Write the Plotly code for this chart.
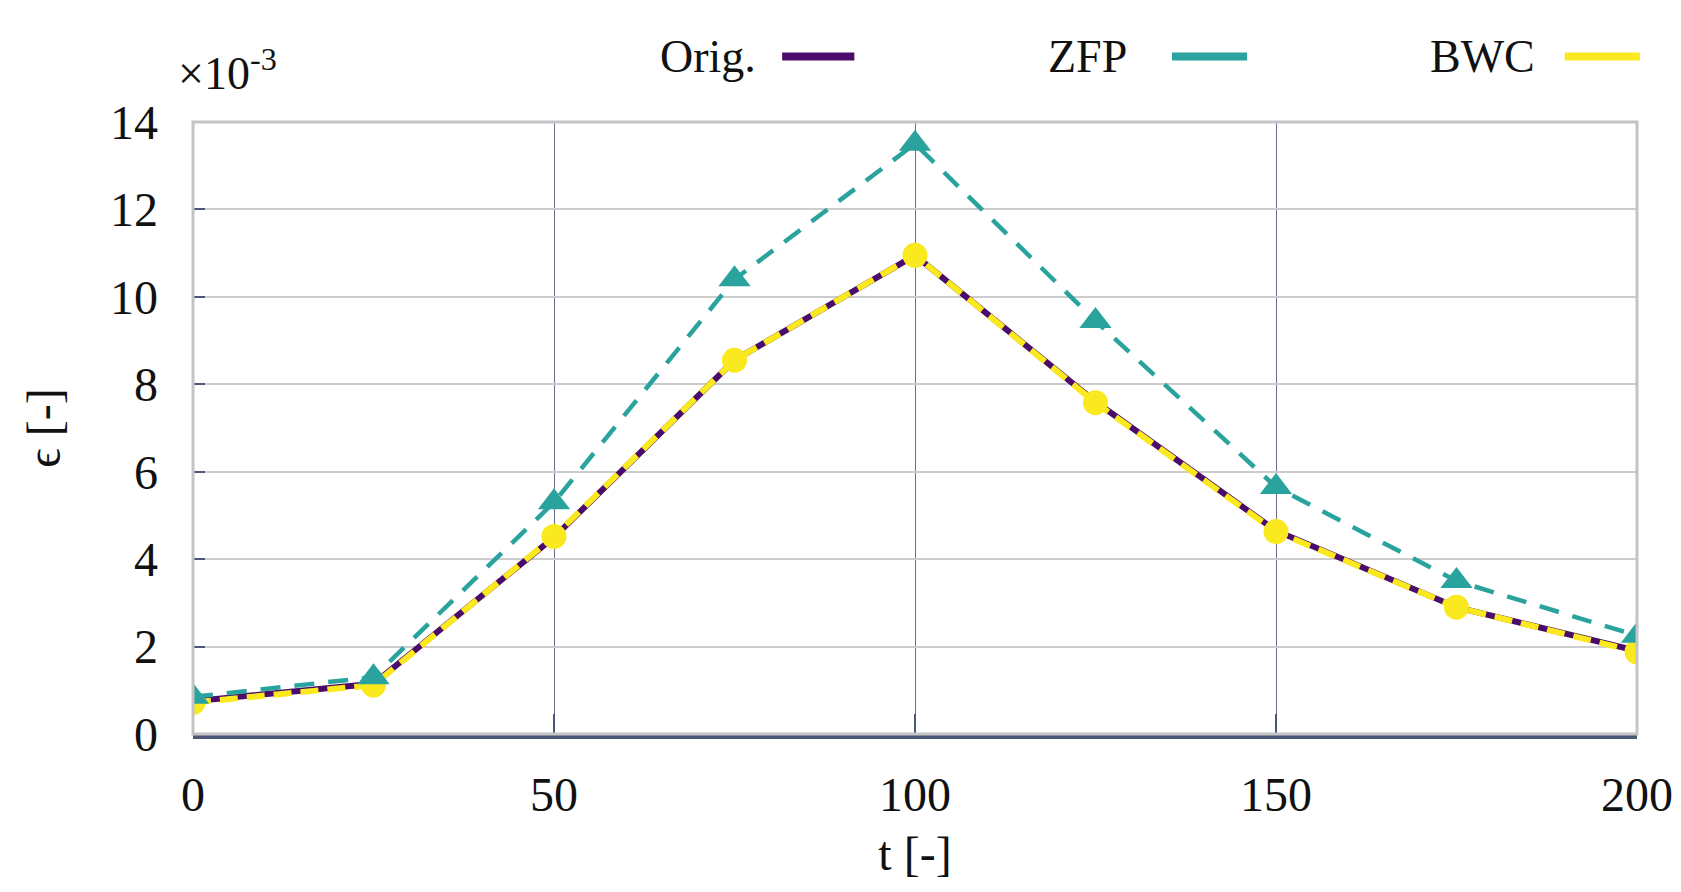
import plotly.graph_objects as go

t = [0, 25, 50, 75, 100, 125, 150, 175, 200]
orig = [0.75, 1.15, 4.5, 8.55, 10.95, 7.6, 4.65, 2.9, 1.9]
zfp = [0.85, 1.3, 5.3, 10.4, 13.5, 9.45, 5.65, 3.5, 2.25]
bwc = [0.72, 1.12, 4.52, 8.55, 10.95, 7.58, 4.63, 2.9, 1.88]

series_names = ["Orig.", "ZFP", "BWC"]
C_ORIG = "#4a0c6b"
C_ZFP = "#2aa39e"
C_BWC = "#fbe91f"
FONT = "Liberation Serif"

fig = go.Figure()
fig.add_trace(go.Scatter(x=t, y=orig, mode="lines", name="Orig.",
                         line=dict(color=C_ORIG, width=6), showlegend=False))
fig.add_trace(go.Scatter(x=t, y=bwc, mode="lines+markers", name="BWC",
                         line=dict(color=C_BWC, width=6, dash="18px,9px"),
                         marker=dict(symbol="circle", size=25, color=C_BWC),
                         showlegend=False))
fig.add_trace(go.Scatter(x=t, y=zfp, mode="lines+markers", name="ZFP",
                         line=dict(color=C_ZFP, width=4.5, dash="20px,14px"),
                         marker=dict(symbol="triangle-up", size=28, color=C_ZFP),
                         showlegend=False))

# custom legend: text followed by line sample
leg = [("Orig.", C_ORIG, 0.391, 0.408, 0.458),
       ("ZFP", C_ZFP, 0.648, 0.678, 0.730),
       ("BWC", C_BWC, 0.931, 0.950, 1.002)]
for name, col, xt, x0, x1 in leg:
    fig.add_annotation(xref="paper", yref="paper", x=xt, y=1.107, text=name,
                       showarrow=False, xanchor="right", yanchor="middle",
                       font=dict(family=FONT, size=46, color="#111"))
    fig.add_shape(type="line", xref="paper", yref="paper", x0=x0, x1=x1,
                  y0=1.107, y1=1.107, line=dict(color=col, width=8))

fig.add_annotation(xref="paper", yref="paper", x=-0.012, y=1.035, text="×10<sup>-3</sup>",
                   showarrow=False, xanchor="left", yanchor="bottom",
                   font=dict(family=FONT, size=46, color="#111"))

# light gray frame
fig.add_shape(type="rect", xref="paper", yref="paper", x0=0, x1=1, y0=0, y1=1,
              line=dict(color="#c4c4c4", width=3), layer="above")

fig.update_layout(
    width=1681, height=892,
    margin=dict(l=193, r=44, t=122, b=158),
    paper_bgcolor="white", plot_bgcolor="white",
    font=dict(family=FONT, size=48, color="#111"),
)
fig.update_xaxes(range=[0, 200], tickvals=[0, 50, 100, 150, 200],
                 automargin=False,
                 showgrid=True, gridcolor="#6a6e8a", gridwidth=1,
                 zeroline=False, showline=True, linecolor="#4c5677", linewidth=5,
                 ticks="inside", ticklen=20, tickcolor="#4c5677", tickwidth=2,
                 ticklabelstandoff=14,
                 title=dict(text="t [-]", font=dict(family=FONT, size=48), standoff=18))
fig.update_yaxes(range=[0, 14], tickvals=[0, 2, 4, 6, 8, 10, 12, 14],
                 automargin=False,
                 showgrid=True, gridcolor="#cccccc", gridwidth=2,
                 zeroline=False, showline=False,
                 ticks="inside", ticklen=12, tickcolor="#4c5677", tickwidth=2,
                 ticklabelstandoff=34,
                 title=dict(text="ϵ [-]", font=dict(family=FONT, size=48), standoff=34))

fig.write_html("out.html")
